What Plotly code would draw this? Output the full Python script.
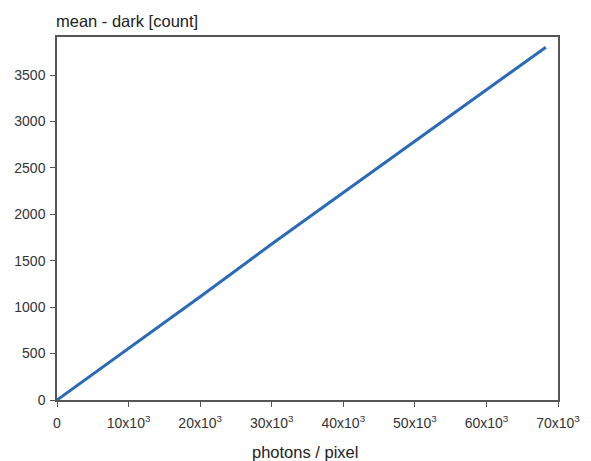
import plotly.graph_objects as go

photons = [0, 10000, 20000, 30000, 40000, 50000, 60000, 68300]
counts = [0, 556, 1112, 1680, 2235, 2790, 3345, 3800]

x_tickvals = [0, 10000, 20000, 30000, 40000, 50000, 60000, 70000]
x_ticktext = ["0", "10x10<sup>3</sup>", "20x10<sup>3</sup>", "30x10<sup>3</sup>",
              "40x10<sup>3</sup>", "50x10<sup>3</sup>", "60x10<sup>3</sup>", "70x10<sup>3</sup>"]
y_tickvals = [0, 500, 1000, 1500, 2000, 2500, 3000, 3500]

FAM = "Liberation Sans, Arial, sans-serif"

fig = go.Figure()
fig.add_trace(go.Scatter(x=photons, y=counts, mode="lines",
                         line=dict(color="#2a6ab8", width=3)))

fig.update_layout(
    width=583, height=453,
    margin=dict(l=49, r=33, t=29, b=61),
    paper_bgcolor="white", plot_bgcolor="white",
    showlegend=False,
    font=dict(family=FAM, size=14, color="#333333"),
    annotations=[
        dict(text="mean - dark [count]", x=0, y=1, xref="paper", yref="paper",
             xanchor="left", yanchor="bottom", xshift=-3, yshift=5, showarrow=False,
             font=dict(family=FAM, size=16.5, color="#222222")),
        dict(text="photons / pixel", x=0.5, y=0, xref="paper", yref="paper",
             xanchor="center", yanchor="middle", xshift=-3, yshift=-52, showarrow=False,
             font=dict(family=FAM, size=16.5, color="#222222")),
    ],
)
fig.update_xaxes(
    range=[0, 70000], tickvals=x_tickvals, ticktext=x_ticktext,
    showgrid=False, zeroline=False, automargin=False,
    showline=True, linecolor="#555555", linewidth=1.5, mirror=True,
    ticks="outside", ticklen=5, tickcolor="#555555",
    ticklabelstandoff=4,
    tickfont=dict(family=FAM, size=14, color="#333333"),
)
fig.update_yaxes(
    range=[0, 3910], tickvals=y_tickvals,
    showgrid=False, zeroline=False, automargin=False,
    showline=True, linecolor="#555555", linewidth=1.5, mirror=True,
    ticks="outside", ticklen=5, tickcolor="#555555",
    ticklabelstandoff=2,
    tickfont=dict(family=FAM, size=14, color="#333333"),
)
fig.write_html("out.html")
